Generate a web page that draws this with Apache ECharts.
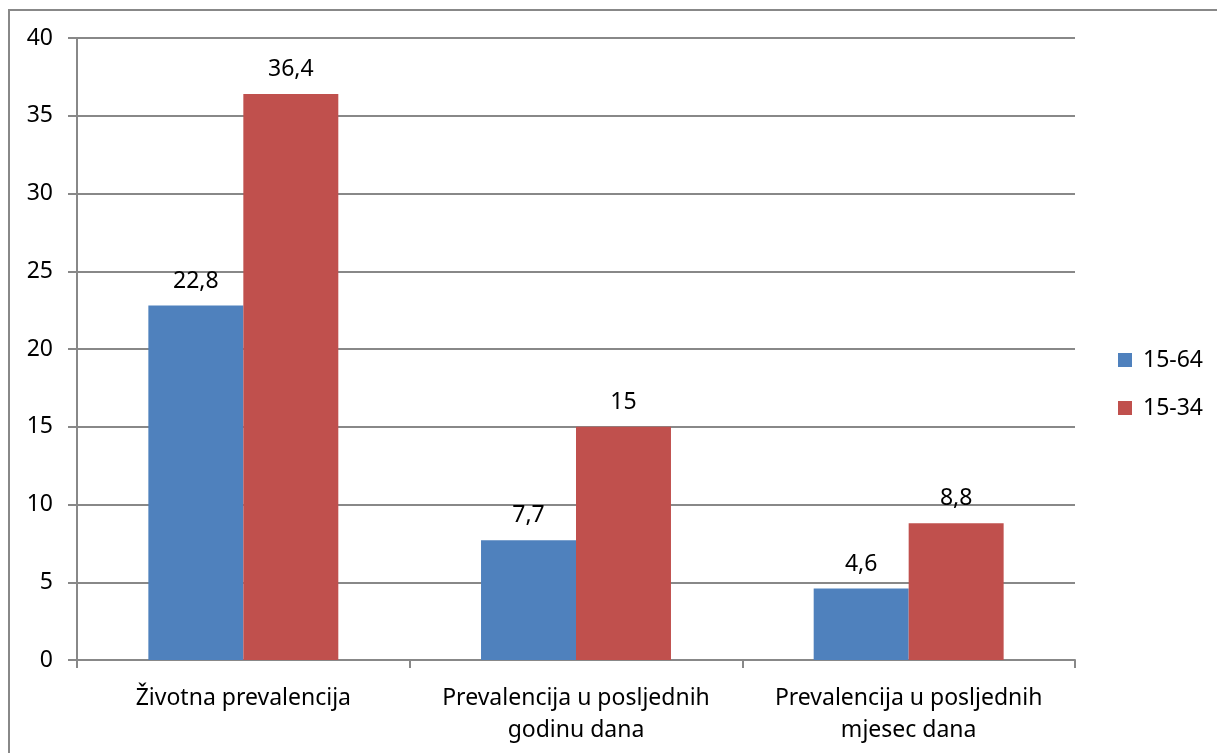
<!DOCTYPE html>
<html>
<head>
<meta charset="utf-8">
<script src="https://cdn.jsdelivr.net/npm/echarts@6/dist/echarts.min.js"></script>
<style>
html,body{margin:0;padding:0;background:#fff;}
#c{width:1217px;height:753px;}
</style>
</head>
<body>
<div id="c"></div>
<script>
const categories = ['Životna prevalencija', 'Prevalencija u posljednih\ngodinu dana', 'Prevalencija u posljednih\nmjesec dana'];
const seriesNames = ['15-64', '15-34'];
const values1564 = [22.8, 7.7, 4.6];
const values1534 = [36.4, 15, 8.8];
const yTicks = [0, 5, 10, 15, 20, 25, 30, 35, 40];

const FONT = 'Noto Sans';
const FS = 23;
const gray = '#888888';
const fmt = p => String(p.value).replace('.', ',');

const chart = echarts.init(document.getElementById('c'), null, {renderer: 'canvas'});
chart.setOption({
  animation: false,
  backgroundColor: '#fff',
  textStyle: {fontFamily: FONT},
  graphic: [{
    type: 'rect',
    shape: {x: 9, y: 10, width: 1400, height: 900},
    style: {fill: 'none', stroke: gray, lineWidth: 2},
    silent: true
  }],
  grid: {left: 77, right: 142, top: 38, bottom: 93, containLabel: false},
  legend: {
    orient: 'vertical',
    left: 1118,
    top: 348,
    padding: 0,
    itemWidth: 14,
    itemHeight: 14,
    itemGap: 24,
    icon: 'rect',
    textStyle: {fontFamily: FONT, fontSize: FS, lineHeight: 24, color: '#000', padding: [0, 0, 0, 6]},
    data: seriesNames
  },
  xAxis: {
    type: 'category',
    data: categories,
    boundaryGap: true,
    axisLine: {lineStyle: {color: gray, width: 2}},
    axisTick: {show: true, length: 8, alignWithLabel: false, lineStyle: {color: gray, width: 2}},
    axisLabel: {fontFamily: FONT, fontSize: FS, color: '#000', margin: 22, lineHeight: 32, interval: 0}
  },
  yAxis: {
    type: 'value',
    min: 0,
    max: 40,
    interval: 5,
    axisLine: {show: true, lineStyle: {color: gray, width: 2}},
    axisTick: {show: true, length: 9, lineStyle: {color: gray, width: 2}},
    splitLine: {show: true, lineStyle: {color: gray, width: 2}},
    axisLabel: {fontFamily: FONT, fontSize: FS, color: '#000', margin: 24,
      formatter: v => yTicks.includes(v) ? String(v) : ''}
  },
  series: [
    {
      name: seriesNames[0], type: 'bar', data: values1564,
      itemStyle: {color: '#4F81BD'},
      barGap: '0%', barCategoryGap: '42.9%',
      label: {show: true, position: 'top', distance: 13, fontFamily: FONT, fontSize: FS, color: '#000', formatter: fmt}
    },
    {
      name: seriesNames[1], type: 'bar', data: values1534,
      itemStyle: {color: '#C0504D'},
      barGap: '0%', barCategoryGap: '42.9%',
      label: {show: true, position: 'top', distance: 13, fontFamily: FONT, fontSize: FS, color: '#000', formatter: fmt}
    }
  ]
});
</script>
</body>
</html>
